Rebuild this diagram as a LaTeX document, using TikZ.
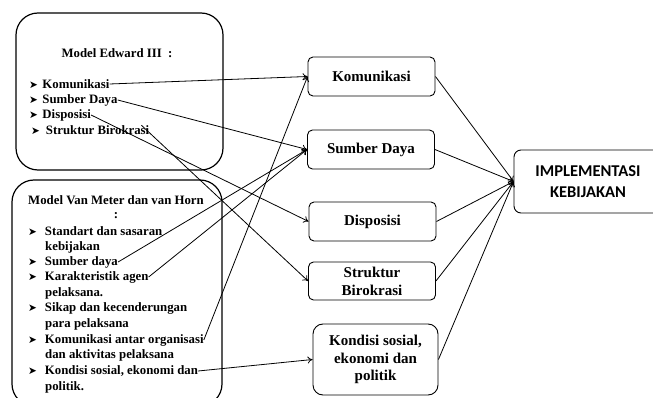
\documentclass[tikz,border=0pt]{standalone}
\usepackage{fontspec}
\setmainfont{Liberation Serif}
\newfontfamily\calfont{Carlito}
\newfontfamily\symfont{DejaVu Sans}
\usepackage{tikz}
\usetikzlibrary{positioning, arrows, arrows.meta}

\newcommand{\bul}{{\symfont\fontsize{10.5}{10.5}\selectfont ➤}}

\begin{document}
\begin{tikzpicture}[x=1pt,y=-1pt,
  modelbox/.style={draw, line width=1.2pt, rounded corners=22pt},
  item/.style={anchor=west, inner sep=0pt, font=\fontsize{12.8}{15}\selectfont\bfseries},
  factor/.style={draw, line width=0.9pt, rounded corners=5pt, minimum width=127pt, minimum height=39pt, inner sep=1pt, align=center, font=\fontsize{15}{18}\selectfont\bfseries},
  link/.style={line width=0.8pt, -{To[length=5pt,width=7pt]}}]
\useasboundingbox (0,0) rectangle (653,398);

% Edward III box
\draw[modelbox] (16,13) rectangle (223,170);
\node[item, anchor=center] (eTitle) at (117,53) {Model Edward III\ \ :};
\node[item] (eKom) at (29,84) {\bul\hspace{4.5pt}Komunikasi};
\node[item] (eSum) at (29,100) {\bul\hspace{4.5pt}Sumber Daya};
\node[item] (eDis) at (29,115) {\bul\hspace{4.5pt}Disposisi};
\node[item] (eStr) at (31,130) {\bul\hspace{6pt}Struktur Birokrasi};

% Van Meter dan van Horn box
\draw[modelbox] (12,180) rectangle (222,406);
\node[item, anchor=center] (vTitle) at (116,200) {Model Van Meter dan van Horn};
\node[item, anchor=center] (vColon) at (116,216) {:};
\node[item] (vStd) at (28,231) {\bul\hspace{8pt}Standart dan sasaran};
\node[item] (vStd2) at (45,247) {kebijakan};
\node[item] (vSum) at (28,262) {\bul\hspace{8pt}Sumber daya};
\node[item] (vKar) at (28,277) {\bul\hspace{8pt}Karakteristik agen};
\node[item] (vKar2) at (45,293) {pelaksana.};
\node[item] (vSik) at (28,308) {\bul\hspace{8pt}Sikap dan kecenderungan};
\node[item] (vSik2) at (45,324) {para pelaksana};
\node[item] (vKom) at (28,340) {\bul\hspace{8pt}Komunikasi antar organisasi};
\node[item] (vKom2) at (45,355) {dan aktivitas pelaksana};
\node[item] (vKon) at (28,371) {\bul\hspace{8pt}Kondisi sosial, ekonomi dan};
\node[item] (vKon2) at (45,387) {politik.};

% factors
\node[factor] (fKom) at (371.5,76.5) {Komunikasi};
\node[factor] (fSum) at (371,149.5) {Sumber Daya};
\node[factor] (fDis) at (372.5,221.5) {Disposisi};
\node[factor, minimum height=38pt] (fStr) at (372,281) {Struktur\\Birokrasi};
\node[factor, minimum width=125pt, minimum height=71pt, rounded corners=10pt, font=\fontsize{15}{17.5}\selectfont\bfseries] (fKon) at (375.5,359.5) {Kondisi sosial,\\ekonomi dan\\politik};

% result
\node[draw, line width=0.9pt, rounded corners=7pt, minimum width=148pt, minimum height=63pt, align=center, font=\calfont\bfseries\fontsize{16.5}{21}\selectfont] (impl) at (588,181.5) {IMPLEMENTASI\\KEBIJAKAN};

% links from the models
\draw[link] (eKom.east) -- (fKom.west);
\draw[link] (eSum.east) -- (fSum.west);
\draw[link] (eDis.east) -- (fDis.west);
\draw[link] ([xshift=-8pt]eStr.north east) -- (fStr.west);
\draw[link] (vSum.east) -- (fSum.west);
\draw[link] (vKar.east) -- (fSum.west);
\draw[link] (vKom.east) -- (fKom.west);
\draw[link] (vKon.east) -- (fKon.west);

% links to the result
\foreach \f in {fKom,fSum,fDis,fStr,fKon}
  \draw[link] (\f.east) -- (impl.west);
\end{tikzpicture}
\end{document}
